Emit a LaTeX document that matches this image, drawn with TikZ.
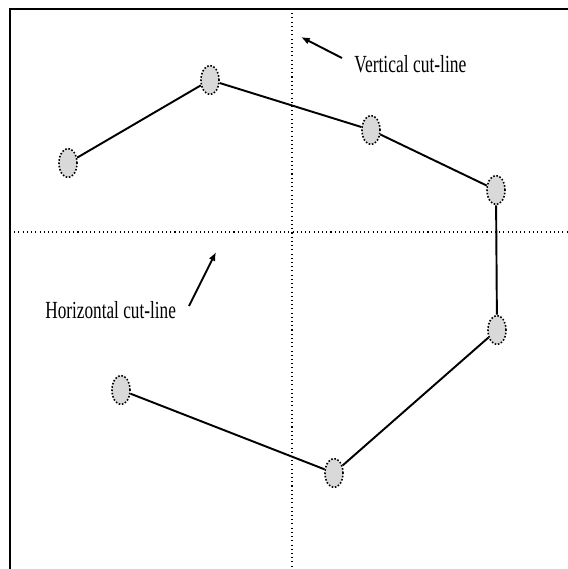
\documentclass[tikz,border=0pt]{standalone}
\usepackage{fontspec}
\setmainfont{Liberation Serif}
\usetikzlibrary{shapes.geometric, arrows.meta}

\begin{document}
\begin{tikzpicture}[x=0.02cm, y=-0.02cm,
        site/.style={ellipse, draw, densely dotted, line width=0.9pt, fill=gray!30, inner sep=0pt, minimum width=0.36cm, minimum height=0.58cm},
        wire/.style={line width=1.1pt},
        cut/.style={line width=0.6pt, dash pattern=on 0.6pt off 1.8pt},
        tag/.style={font=\fontsize{14}{16}\selectfont, inner sep=0pt, anchor=west}
    ]
        \useasboundingbox (0,0) rectangle (568,569);

        % Frame (top and left edge only)
        \draw[line width=1.6pt] (10,569) -- (10,9) -- (568,9);

        % Cut-lines
        \draw[cut] (292,9) -- (292,569);
        \draw[cut] (10,232) -- (568,232);

        % Sites
        \node[site] (s1) at (68,163) {};
        \node[site] (s2) at (210,80) {};
        \node[site] (s3) at (371,130) {};
        \node[site] (s4) at (496,190) {};
        \node[site] (s5) at (497,330) {};
        \node[site] (s6) at (334,473) {};
        \node[site] (s7) at (121,390) {};

        % Path through the sites
        \draw[wire] (s1) -- (s2) -- (s3) -- (s4) -- (s5) -- (s6) -- (s7);

        % Labels
        \node[tag] (vlab) at (354,64) {\scalebox{0.71}[1]{Vertical cut-line}};
        \node[tag] (hlab) at (45,310) {\scalebox{0.7}[1]{Horizontal cut-line}};

        \coordinate (vtail) at (342,58);
        \coordinate (vtip) at (301,37);
        \coordinate (htail) at (189,306);
        \coordinate (htip) at (216,252);

        \draw[-{Latex[length=5pt, width=4pt]}, line width=1.1pt] (vtail) -- (vtip);
        \draw[-{Latex[length=5pt, width=4pt]}, line width=1.1pt] (htail) -- (htip);
    \end{tikzpicture}
\end{document}
